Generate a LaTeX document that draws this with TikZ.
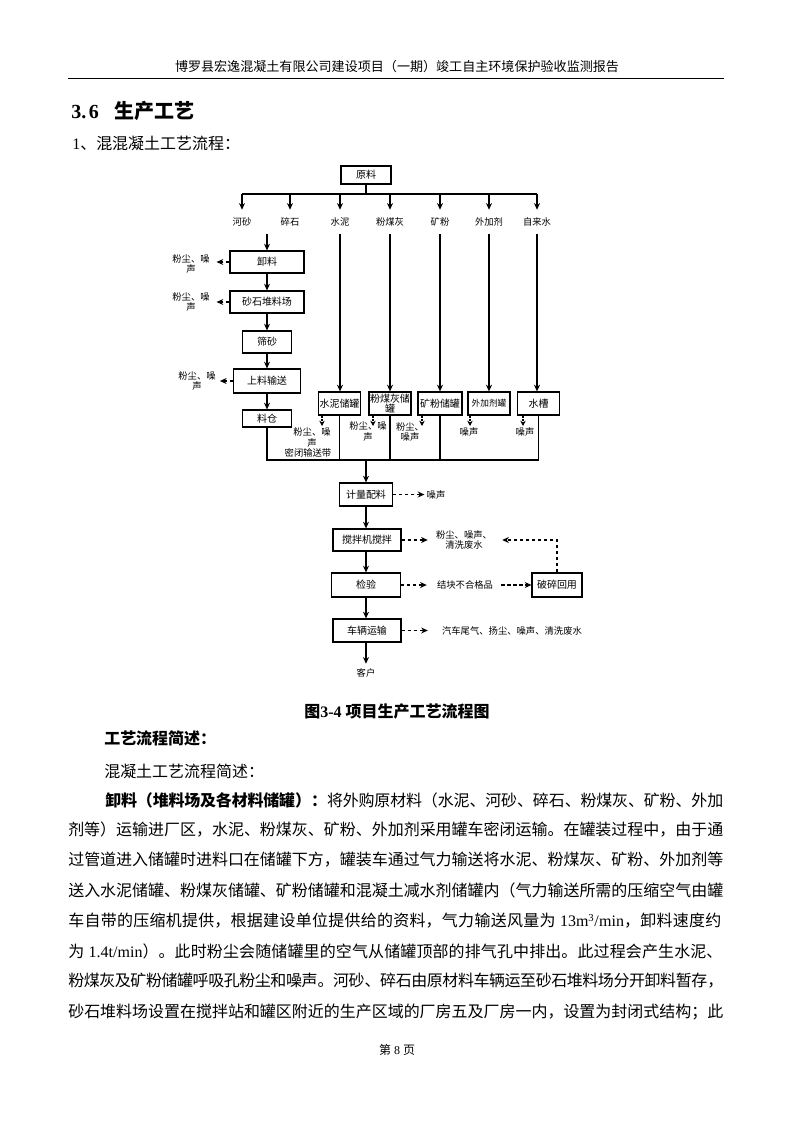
\documentclass[tikz,border=0pt]{standalone}
\usepackage{fontspec}
\setmainfont{Liberation Serif}
\newfontfamily\cjk{Noto Sans CJK SC}
\usetikzlibrary{arrows.meta}
\XeTeXlinebreaklocale "zh"
\XeTeXlinebreakskip=0pt plus 3pt minus 0.6pt
\tolerance=10000
\hbadness=10000
\newcommand\dfont{\cjk\fontsize{7}{7.6}\selectfont}
\newcommand\bfont{\cjk\fontsize{7.5}{7.8}\selectfont}
\newcommand\bodyfont{\cjk\fontsize{12}{14}\selectfont}
\newcommand\bline[4]{\node[anchor=west,inner sep=0pt,text width=#2] (#1) at #3 {\bodyfont\noindent\parfillskip=0pt\relax #4\par};}
\tikzset{
  box/.style={draw, line width=0.9pt, inner sep=0pt, font=\bfont, align=center},
  tank/.style={box, minimum width=31.5pt, minimum height=17.3pt},
  lab/.style={inner sep=0pt, font=\dfont, align=center},
  ln/.style={line width=0.8pt},
  arr/.style={line width=0.8pt, -{Stealth[length=5pt,width=4.5pt]}},
  darr/.style={line width=0.8pt, dash pattern=on 2.5pt off 2pt, -{Stealth[length=5pt,width=4.5pt]}},
  sdarr/.style={line width=0.8pt, dash pattern=on 1.5pt off 1pt, -{Stealth[length=4pt,width=4pt]}}
}
\begin{document}
\begin{tikzpicture}[x=0.7505pt,y=-0.7505pt]
\useasboundingbox (0,0) rectangle (793,1122);
\fill[white] (0,0) rectangle (793,1122);

% header
\node[inner sep=0pt, font=\cjk\fontsize{9.8}{12}\selectfont] (hdr) at (397,67) {博罗县宏逸混凝土有限公司建设项目（一期）竣工自主环境保护验收监测报告};
\draw[line width=0.6pt] (68,78) -- (724,78);

% titles
\node[anchor=west, inner sep=0pt] (ttl) at (71,111) {\fontsize{15}{18}\selectfont\bfseries 3.\hspace{2pt}6\hspace{12pt}{\cjk 生产工艺}};
\node[anchor=west, inner sep=0pt] (sub) at (72,143) {\fontsize{12}{14}\selectfont 1{\cjk 、混混凝土工艺流程：}};

% ===== diagram =====
\node[box, minimum width=37.5pt, minimum height=13.5pt] (yl) at (366,175) {原料};
\coordinate (tj) at (366,194);
\node[lab, minimum height=18pt] (hs) at (242,222) {河砂};
\node[lab, minimum height=18pt] (ss) at (290,222) {碎石};
\node[lab, minimum height=18pt] (sn) at (340,222) {水泥};
\node[lab, minimum height=18pt] (fmh) at (390,222) {粉煤灰};
\node[lab, minimum height=18pt] (kf) at (440,222) {矿粉};
\node[lab, minimum height=18pt] (wjj) at (489,222) {外加剂};
\node[lab, minimum height=18pt] (zls) at (537,222) {自来水};
\draw[ln] (yl.south) -- (tj);
\draw[ln] (hs.north |- tj) -- (zls.north |- tj);
\foreach \n in {hs,ss,sn,fmh,kf,wjj,zls} \draw[arr] (\n.north |- tj) -- (\n.north);

% left chain
\coordinate (c1) at (267,234);
\node[box, minimum width=55.5pt, minimum height=16.5pt] (xl) at (267,262) {卸料};
\node[box, minimum width=55.5pt, minimum height=16.5pt] (sc) at (267,302) {砂石堆料场};
\node[box, minimum width=36.8pt, minimum height=16.5pt] (sa) at (267,342) {筛砂};
\node[box, minimum width=50.3pt, minimum height=18pt] (sl) at (267,381) {上料输送};
\node[box, minimum width=36.8pt, minimum height=12.8pt] (lc) at (267,418.5) {料仓};
\draw[arr] (c1) -- (xl.north);
\draw[arr] (xl.south) -- (sc.north);
\draw[arr] (sc.south) -- (sa.north);
\draw[arr] (sa.south) -- (sl.north);
\draw[arr] (sl.south) -- (lc.north);

\node[lab] (n1) at (191,264) {粉尘、噪\\声};
\node[lab] (n2) at (191,302) {粉尘、噪\\声};
\node[lab] (n3) at (197,381) {粉尘、噪\\声};
\draw[darr, shorten >=5pt] (xl.west) -- (n1.east |- xl.west);
\draw[darr, shorten >=5pt] (sc.west) -- (n2.east |- sc.west);
\draw[darr, shorten >=3pt] (sl.west) -- (n3.east |- sl.west);

% tanks
\node[tank] (t1) at (339.5,403.5) {水泥储罐};
\node[tank] (t2) at (390,403.5) {粉煤灰储\\罐};
\node[tank, minimum width=33pt] (t3) at (440,403.5) {矿粉储罐};
\node[tank] (t4) at (489,403.5) {\fontsize{6.5}{7}\selectfont 外加剂罐};
\node[tank] (t5) at (538.5,403.5) {水槽};
\draw[arr] (sn.south) -- (sn.south |- t1.north);
\draw[arr] (fmh.south) -- (fmh.south |- t2.north);
\draw[arr] (kf.south) -- (kf.south |- t3.north);
\draw[arr] (wjj.south) -- (wjj.south |- t4.north);
\draw[arr] (zls.south) -- (zls.south |- t5.north);

\coordinate (e1) at (322,426);
\coordinate (e2) at (373,426);
\coordinate (e3) at (422,426);
\coordinate (e4) at (470,426);
\coordinate (e5) at (523,426);
\draw[sdarr] (t1.south -| e1) -- (e1);
\draw[sdarr] (t2.south -| e2) -- (e2);
\draw[sdarr] (t3.south -| e3) -- (e3);
\draw[sdarr] (t4.south -| e4) -- (e4);
\draw[sdarr] (t5.south -| e5) -- (e5);

\node[lab] (m1) at (312,437.5) {粉尘、噪\\声};
\node[lab] (mb) at (308,453) {密闭输送带};
\node[lab] (m2) at (368,431.5) {粉尘、噪\\声};
\node[lab] (m3) at (410,432) {粉尘、\\噪声};
\node[lab] (m4) at (469,432) {噪声};
\node[lab] (m5) at (525,432) {噪声};

% collector
\coordinate (cb) at (366,460);
\draw[ln] (lc.south) -- (lc.south |- cb) -- (t5.south |- cb) -- (t5.south);
\foreach \t in {t1,t2,t3} \draw[ln] (\t.south) -- (\t.south |- cb);

% main chain
\node[box, minimum width=39.8pt, minimum height=17.3pt] (jl) at (366,494.5) {计量配料};
\node[box, minimum width=51pt, minimum height=16.5pt] (jb) at (367,540) {搅拌机搅拌};
\node[box, minimum width=51.8pt, minimum height=18pt] (jy) at (366,585) {检验};
\node[box, minimum width=51pt, minimum height=17.3pt] (cl) at (367,630.5) {车辆运输};
\node[lab] (kh) at (366,673) {客户};
\node[box, minimum width=37.5pt, minimum height=18pt] (ps) at (557,585) {破碎回用};
\draw[arr] (cb) -- (jl.north);
\draw[arr] (jl.south) -- (jl.south |- jb.north);
\draw[arr] (jl.south |- jb.south) -- (jl.south |- jy.north);
\draw[arr] (jy.south) -- (jy.south |- cl.north);
\draw[arr, shorten >=3.5pt] (jy.south |- cl.south) -- (kh.north);

\node[lab] (r1) at (436,494.5) {噪声};
\node[lab] (r2) at (464,540) {粉尘、噪声、\\清洗废水};
\node[lab] (r3) at (465,585) {结块不合格品};
\node[lab] (r4) at (512,631) {汽车尾气、扬尘、噪声、清洗废水};
\draw[darr, shorten >=1.5pt] (jl.east) -- (r1.west |- jl.east);
\draw[darr, shorten >=6pt] (jb.east) -- (r2.west |- jb.east);
\draw[darr, shorten >=7.5pt] (jy.east) -- (r3.west |- jy.east);
\draw[darr, shorten <=6pt] (r3.east |- ps.west) -- (ps.west);
\draw[darr, shorten >=7.5pt] (ps.north) |- (r2.east);
\draw[darr, shorten >=10.5pt] (cl.east) -- (r4.west |- cl.east);

% caption
\node[inner sep=0pt] (cap) at (397,711) {\fontsize{12}{14}\selectfont\bfseries{\cjk 图}3-4 {\cjk 项目生产工艺流程图}};

% body
\node[anchor=west, inner sep=0pt] (b0) at (104,738) {\bodyfont\bfseries 工艺流程简述：};
\node[anchor=west, inner sep=0pt] (b1) at (104,771) {\bodyfont 混凝土工艺流程简述：};
\bline{l1}{463.8pt}{(105,800)}{{\bfseries 卸料（堆料场及各材料储罐）：}将外购原材料（水泥、河砂、碎石、粉煤灰、矿粉、外加}
\bline{l2}{491.6pt}{(68,830)}{剂等）运输进厂区，水泥、粉煤灰、矿粉、外加剂采用罐车密闭运输。在罐装过程中，由于通}
\bline{l3}{491.6pt}{(68,860)}{过管道进入储罐时进料口在储罐下方，罐装车通过气力输送将水泥、粉煤灰、矿粉、外加剂等}
\bline{l4}{491.6pt}{(68,890)}{送入水泥储罐、粉煤灰储罐、矿粉储罐和混凝土减水剂储罐内（气力输送所需的压缩空气由罐}
\bline{l5}{491.6pt}{(68,921)}{车自带的压缩机提供，根据建设单位提供给的资料，气力输送风量为 {\rmfamily 13m\textsuperscript{3}/min}，卸料速度约}
\bline{l6}{491.6pt}{(68,951)}{为 {\rmfamily 1.4t/min}）。此时粉尘会随储罐里的空气从储罐顶部的排气孔中排出。此过程会产生水泥、}
\bline{l7}{491.6pt}{(68,981)}{粉煤灰及矿粉储罐呼吸孔粉尘和噪声。河砂、碎石由原材料车辆运至砂石堆料场分开卸料暂存，}
\bline{l8}{491.6pt}{(68,1012)}{砂石堆料场设置在搅拌站和罐区附近的生产区域的厂房五及厂房一内，设置为封闭式结构；此}

% footer
\node[inner sep=0pt] (ft) at (397,1050) {\fontsize{9}{11}\selectfont{\cjk 第} 8 {\cjk 页}};
\end{tikzpicture}
\end{document}
